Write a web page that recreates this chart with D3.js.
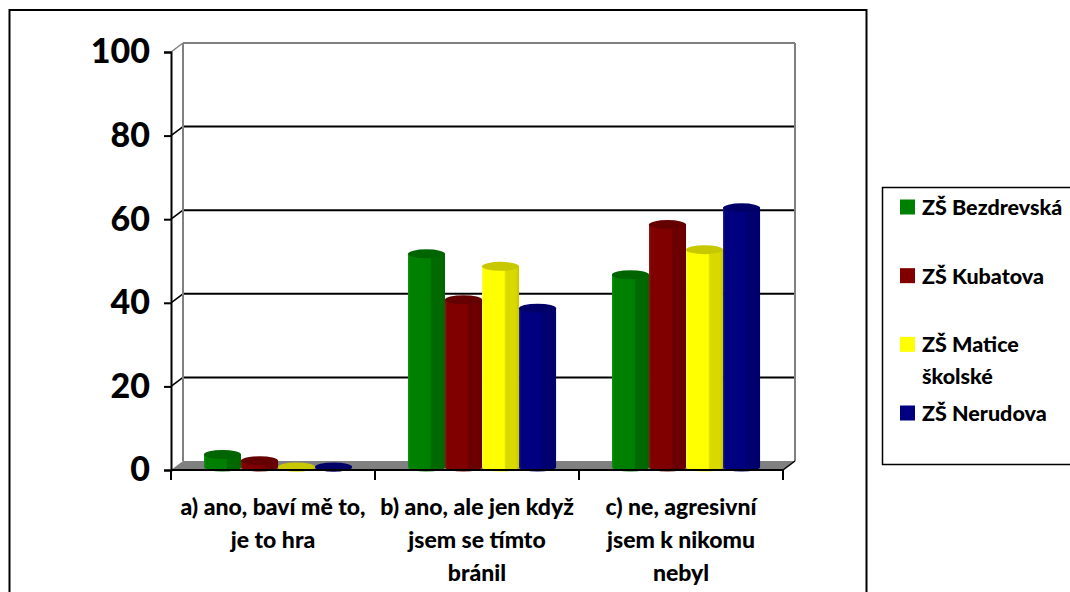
<!DOCTYPE html>
<html>
<head>
<meta charset="utf-8">
<script src="https://cdn.jsdelivr.net/npm/d3@7"></script>
<style>
  body { margin: 0; background: #fff; }
  svg { display: block; font-family: Lato, "Open Sans", sans-serif; font-weight: 900; }
</style>
</head>
<body>
<svg id="chart" width="1070" height="592"></svg>
<script>
// data (percent)
const categories = [
    ['a) ano, baví mě to,', 'je to hra'],
    ['b) ano, ale jen když', 'jsem se tímto', 'bránil'],
    ['c) ne, agresivní', 'jsem k nikomu', 'nebyl']
];
const seriesNames = [['ZŠ Bezdrevská'], ['ZŠ Kubatova'], ['ZŠ Matice', 'školské'], ['ZŠ Nerudova']];
const bezdrevska = [3, 51, 46];
const kubatova = [1.5, 40, 58];
const matice = [0, 48, 52];
const nerudova = [0, 38, 62];
const yTicks = [0, 20, 40, 60, 80, 100];

// body, right side, top cap, lighter edge
const colors = [
    ['#008000', '#006a00', '#006400', '#1a8c1a'],
    ['#800000', '#6c0000', '#650000', '#8c1a1a'],
    ['#ffff00', '#d9d900', '#c8c800', '#ffff40'],
    ['#000080', '#00006e', '#000068', '#1a1a8c']
];
const series = [bezdrevska, kubatova, matice, nerudova];

const svg = d3.select('#chart');

// depth of the 3d box
const dx = 12, dy = -9;
// bars stand a bit behind the front plane
const bdx = 4, bdy = -3;

const yScale = d3.scaleLinear().domain([0, 100]).range([470, 52]);
const xScale = d3.scaleBand().domain(d3.range(categories.length)).range([171, 783]);
const bw = xScale.bandwidth();
const xInner = d3.scaleBand().domain(d3.range(series.length)).range([bw * 0.142, bw * 0.868]);

// outer border
svg.append('rect')
    .attr('x', 9.5).attr('y', 10)
    .attr('width', 857).attr('height', 600)
    .attr('fill', 'none').attr('stroke', '#000').attr('stroke-width', 2);

const x0 = xScale.range()[0], x1 = xScale.range()[1];
const y0 = yScale(0);

// floor
svg.append('path')
    .attr('d', `M${x0},${y0}L${x1},${y0}L${x1 + dx},${y0 + dy}L${x0 + dx},${y0 + dy}Z`)
    .attr('fill', '#808080');

// gridlines on back wall + diagonal on side wall
const grid = svg.append('g');
yTicks.filter(t => t > 0).forEach(t => {
    const yf = yScale(t);
    const col = t === 100 ? '#808080' : '#000';
    grid.append('line')
        .attr('x1', x0 + dx).attr('x2', x1 + dx)
        .attr('y1', yf + dy).attr('y2', yf + dy)
        .attr('stroke', col).attr('stroke-width', 2);
    grid.append('line')
        .attr('x1', x0).attr('x2', x0 + dx)
        .attr('y1', yf).attr('y2', yf + dy)
        .attr('stroke', col).attr('stroke-width', 1.5);
});
// back wall edges
grid.append('line')
    .attr('x1', x0 + dx).attr('x2', x0 + dx)
    .attr('y1', yScale(100) + dy).attr('y2', y0 + dy)
    .attr('stroke', '#808080').attr('stroke-width', 2);
grid.append('line')
    .attr('x1', x1 + dx).attr('x2', x1 + dx)
    .attr('y1', yScale(100) + dy).attr('y2', y0 + dy)
    .attr('stroke', '#808080').attr('stroke-width', 2);
grid.append('line')
    .attr('x1', x1).attr('x2', x1 + dx)
    .attr('y1', y0).attr('y2', y0 + dy)
    .attr('stroke', '#000').attr('stroke-width', 1.5);

// gradients
const defs = svg.append('defs');
colors.forEach((c, i) => {
    const g = defs.append('linearGradient').attr('id', 'g' + i)
        .attr('x1', '0').attr('x2', '1').attr('y1', '0').attr('y2', '0');
    g.append('stop').attr('offset', '0').attr('stop-color', c[3]);
    g.append('stop').attr('offset', '0.06').attr('stop-color', c[0]);
    g.append('stop').attr('offset', '0.6').attr('stop-color', c[0]);
    g.append('stop').attr('offset', '0.64').attr('stop-color', c[1]);
    g.append('stop').attr('offset', '0.9').attr('stop-color', c[1]);
    g.append('stop').attr('offset', '1').attr('stop-color', c[2]);
});

// bars
const bars = svg.append('g');
const ry = 4.5;
categories.forEach((cat, ci) => {
    series.forEach((s, si) => {
        const w = xInner.bandwidth();
        const bx = xScale(ci) + xInner(si) + bdx;
        const yt = yScale(s[ci]) + bdy;
        const yb = y0 + bdy;
        bars.append('path')
            .attr('d', `M${bx},${yt}L${bx},${yb}A${w / 2},${ry} 0 0 0 ${bx + w},${yb}L${bx + w},${yt}Z`)
            .attr('fill', `url(#g${si})`);
        bars.append('ellipse')
            .attr('cx', bx + w / 2).attr('cy', yt)
            .attr('rx', w / 2).attr('ry', ry)
            .attr('fill', colors[si][2]);
    });
});

// y axis
const yAxis = svg.append('g').attr('transform', `translate(${x0},0)`)
    .call(d3.axisLeft(yScale).tickValues(yTicks).tickSize(7).tickPadding(14));
yAxis.select('.domain').attr('stroke', '#000').attr('stroke-width', 2);
yAxis.selectAll('.tick line').attr('stroke', '#000').attr('stroke-width', 2);
yAxis.selectAll('.tick text')
    .attr('font-family', 'Lato, sans-serif').attr('font-weight', 900)
    .attr('font-size', 34).attr('fill', '#000');

// x axis
const xAxis = svg.append('g').attr('transform', `translate(0,${y0})`);
xAxis.append('line')
    .attr('x1', x0).attr('x2', x1)
    .attr('stroke', '#000').attr('stroke-width', 2);
d3.range(categories.length + 1).forEach(i => {
    const x = i < categories.length ? xScale(i) : x1;
    xAxis.append('line')
        .attr('x1', x).attr('x2', x).attr('y1', 0).attr('y2', 10)
        .attr('stroke', '#000').attr('stroke-width', 2);
});
categories.forEach((lines, ci) => {
    const t = xAxis.append('text')
        .attr('text-anchor', 'middle')
        .attr('font-size', 23).attr('fill', '#000');
    lines.forEach((l, li) => {
        t.append('tspan')
            .attr('x', xScale(ci) + bw / 2)
            .attr('y', 45 + li * 33)
            .text(l);
    });
});

// legend
svg.append('rect')
    .attr('x', 882.5).attr('y', 187.5)
    .attr('width', 200).attr('height', 277)
    .attr('fill', 'none').attr('stroke', '#000').attr('stroke-width', 1.5);
const ly = d3.scaleLinear().domain([0, 3]).range([207, 413]);
seriesNames.forEach((lines, i) => {
    svg.append('rect')
        .attr('x', 900).attr('y', ly(i) - 7.5)
        .attr('width', 15).attr('height', 15)
        .attr('fill', colors[i][0]);
    const t = svg.append('text').attr('font-size', 21.5).attr('fill', '#000');
    lines.forEach((l, li) => {
        t.append('tspan').attr('x', 922).attr('y', ly(i) + 8 + li * 32).text(l);
    });
});
</script>
</body>
</html>
